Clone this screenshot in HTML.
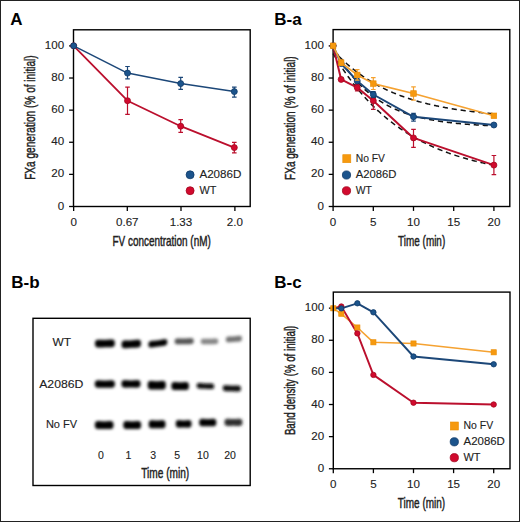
<!DOCTYPE html><html><head><meta charset="utf-8"><style>html,body{margin:0;padding:0;background:#fff;}svg{display:block;}text{font-family:"Liberation Sans", sans-serif;}</style></head><body>
<svg width="520" height="522" viewBox="0 0 520 522">
<rect x="0" y="0" width="520" height="522" fill="#fff"/>
<defs><filter id="bl" x="-30%" y="-60%" width="160%" height="220%"><feGaussianBlur stdDeviation="1.4"/></filter></defs>
<text x="10.2" y="24.6" font-size="17" text-anchor="start" font-weight="bold" fill="#000">A</text>
<path d="M69.10,206.50H73.50" stroke="#000" stroke-width="1.3"/>
<text x="64.1" y="209.60" font-size="11.6" text-anchor="end" font-weight="normal" fill="#222" stroke="#222" stroke-width="0.12">0</text>
<path d="M69.10,174.38H73.50" stroke="#000" stroke-width="1.3"/>
<text x="64.1" y="177.48" font-size="11.6" text-anchor="end" font-weight="normal" fill="#222" stroke="#222" stroke-width="0.12">20</text>
<path d="M69.10,142.26H73.50" stroke="#000" stroke-width="1.3"/>
<text x="64.1" y="145.36" font-size="11.6" text-anchor="end" font-weight="normal" fill="#222" stroke="#222" stroke-width="0.12">40</text>
<path d="M69.10,110.14H73.50" stroke="#000" stroke-width="1.3"/>
<text x="64.1" y="113.24" font-size="11.6" text-anchor="end" font-weight="normal" fill="#222" stroke="#222" stroke-width="0.12">60</text>
<path d="M69.10,78.02H73.50" stroke="#000" stroke-width="1.3"/>
<text x="64.1" y="81.12" font-size="11.6" text-anchor="end" font-weight="normal" fill="#222" stroke="#222" stroke-width="0.12">80</text>
<path d="M69.10,45.90H73.50" stroke="#000" stroke-width="1.3"/>
<text x="64.1" y="49.00" font-size="11.6" text-anchor="end" font-weight="normal" fill="#222" stroke="#222" stroke-width="0.12">100</text>
<path d="M73.65,206.50V210.90" stroke="#000" stroke-width="1.3"/>
<text x="73.65" y="225.6" font-size="11.6" text-anchor="middle" font-weight="normal" fill="#222" stroke="#222" stroke-width="0.12">0</text>
<path d="M127.30,206.50V210.90" stroke="#000" stroke-width="1.3"/>
<text x="127.30" y="225.6" font-size="11.6" text-anchor="middle" font-weight="normal" fill="#222" stroke="#222" stroke-width="0.12">0.67</text>
<path d="M181.00,206.50V210.90" stroke="#000" stroke-width="1.3"/>
<text x="181.00" y="225.6" font-size="11.6" text-anchor="middle" font-weight="normal" fill="#222" stroke="#222" stroke-width="0.12">1.33</text>
<path d="M234.90,206.50V210.90" stroke="#000" stroke-width="1.3"/>
<text x="234.90" y="225.6" font-size="11.6" text-anchor="middle" font-weight="normal" fill="#222" stroke="#222" stroke-width="0.12">2.0</text>
<text x="112.5" y="245.6" font-size="14.5" text-anchor="start" font-weight="normal" fill="#222" textLength="98.3" lengthAdjust="spacingAndGlyphs" stroke="#222" stroke-width="0.45">FV concentration (nM)</text>
<text transform="translate(34.9,179.8) rotate(-90)" x="0" y="0" font-size="14.5" fill="#222" textLength="124.5" lengthAdjust="spacingAndGlyphs" stroke="#222" stroke-width="0.45">FXa generation (% of initial)</text>
<rect x="73.5" y="29.8" width="176.70" height="176.70" fill="none" stroke="#000" stroke-width="1.4"/>
<polyline points="73.65,45.80 127.50,100.70 180.70,126.20 234.30,147.60" fill="none" stroke="#bb0f2d" stroke-width="1.8" stroke-linejoin="round"/>
<path d="M127.50,87.20V114.30M125.20,87.20H129.80M125.20,114.30H129.80" stroke="#bb0f2d" stroke-width="1.2" fill="none"/>
<path d="M180.70,119.60V132.30M178.40,119.60H183.00M178.40,132.30H183.00" stroke="#bb0f2d" stroke-width="1.2" fill="none"/>
<path d="M234.30,142.40V152.80M232.00,142.40H236.60M232.00,152.80H236.60" stroke="#bb0f2d" stroke-width="1.2" fill="none"/>
<circle cx="73.65" cy="45.80" r="3.0" fill="#d10a2e" stroke="#a3081f" stroke-width="0.8"/>
<circle cx="127.50" cy="100.70" r="3.0" fill="#d10a2e" stroke="#a3081f" stroke-width="0.8"/>
<circle cx="180.70" cy="126.20" r="3.0" fill="#d10a2e" stroke="#a3081f" stroke-width="0.8"/>
<circle cx="234.30" cy="147.60" r="3.0" fill="#d10a2e" stroke="#a3081f" stroke-width="0.8"/>
<polyline points="73.65,45.80 127.50,73.10 180.70,83.60 234.30,91.60" fill="none" stroke="#1c4778" stroke-width="1.5" stroke-linejoin="round"/>
<path d="M127.50,66.50V78.80M125.20,66.50H129.80M125.20,78.80H129.80" stroke="#1c4778" stroke-width="1.2" fill="none"/>
<path d="M180.70,77.30V89.30M178.40,77.30H183.00M178.40,89.30H183.00" stroke="#1c4778" stroke-width="1.2" fill="none"/>
<path d="M234.30,87.20V97.20M232.00,87.20H236.60M232.00,97.20H236.60" stroke="#1c4778" stroke-width="1.2" fill="none"/>
<circle cx="73.65" cy="45.80" r="3.0" fill="#1c548c" stroke="#0f3a68" stroke-width="0.8"/>
<circle cx="127.50" cy="73.10" r="3.0" fill="#1c548c" stroke="#0f3a68" stroke-width="0.8"/>
<circle cx="180.70" cy="83.60" r="3.0" fill="#1c548c" stroke="#0f3a68" stroke-width="0.8"/>
<circle cx="234.30" cy="91.60" r="3.0" fill="#1c548c" stroke="#0f3a68" stroke-width="0.8"/>
<circle cx="190.10" cy="174.80" r="4.0" fill="#1c548c" stroke="#0f3a68" stroke-width="0.8"/>
<text x="199.4" y="178.1" font-size="11.3" text-anchor="start" font-weight="normal" fill="#222" textLength="42.0" lengthAdjust="spacingAndGlyphs" stroke="#222" stroke-width="0.12">A2086D</text>
<circle cx="190.10" cy="190.70" r="4.0" fill="#d10a2e" stroke="#a3081f" stroke-width="0.8"/>
<text x="199.5" y="193.9" font-size="11.3" text-anchor="start" font-weight="normal" fill="#222" textLength="16.8" lengthAdjust="spacingAndGlyphs" stroke="#222" stroke-width="0.12">WT</text>
<text x="274.2" y="24.6" font-size="17" text-anchor="start" font-weight="bold" fill="#000">B-a</text>
<path d="M328.70,206.50H333.10" stroke="#000" stroke-width="1.3"/>
<text x="323.9" y="209.60" font-size="11.6" text-anchor="end" font-weight="normal" fill="#222" stroke="#222" stroke-width="0.12">0</text>
<path d="M328.70,174.38H333.10" stroke="#000" stroke-width="1.3"/>
<text x="323.9" y="177.48" font-size="11.6" text-anchor="end" font-weight="normal" fill="#222" stroke="#222" stroke-width="0.12">20</text>
<path d="M328.70,142.26H333.10" stroke="#000" stroke-width="1.3"/>
<text x="323.9" y="145.36" font-size="11.6" text-anchor="end" font-weight="normal" fill="#222" stroke="#222" stroke-width="0.12">40</text>
<path d="M328.70,110.14H333.10" stroke="#000" stroke-width="1.3"/>
<text x="323.9" y="113.24" font-size="11.6" text-anchor="end" font-weight="normal" fill="#222" stroke="#222" stroke-width="0.12">60</text>
<path d="M328.70,78.02H333.10" stroke="#000" stroke-width="1.3"/>
<text x="323.9" y="81.12" font-size="11.6" text-anchor="end" font-weight="normal" fill="#222" stroke="#222" stroke-width="0.12">80</text>
<path d="M328.70,45.90H333.10" stroke="#000" stroke-width="1.3"/>
<text x="323.9" y="49.00" font-size="11.6" text-anchor="end" font-weight="normal" fill="#222" stroke="#222" stroke-width="0.12">100</text>
<path d="M333.10,206.50V210.90" stroke="#000" stroke-width="1.3"/>
<text x="333.10" y="225.6" font-size="11.6" text-anchor="middle" font-weight="normal" fill="#222" stroke="#222" stroke-width="0.12">0</text>
<path d="M373.30,206.50V210.90" stroke="#000" stroke-width="1.3"/>
<text x="373.30" y="225.6" font-size="11.6" text-anchor="middle" font-weight="normal" fill="#222" stroke="#222" stroke-width="0.12">5</text>
<path d="M413.50,206.50V210.90" stroke="#000" stroke-width="1.3"/>
<text x="413.50" y="225.6" font-size="11.6" text-anchor="middle" font-weight="normal" fill="#222" stroke="#222" stroke-width="0.12">10</text>
<path d="M453.70,206.50V210.90" stroke="#000" stroke-width="1.3"/>
<text x="453.70" y="225.6" font-size="11.6" text-anchor="middle" font-weight="normal" fill="#222" stroke="#222" stroke-width="0.12">15</text>
<path d="M493.90,206.50V210.90" stroke="#000" stroke-width="1.3"/>
<text x="493.90" y="225.6" font-size="11.6" text-anchor="middle" font-weight="normal" fill="#222" stroke="#222" stroke-width="0.12">20</text>
<text x="398.1" y="245.6" font-size="14.5" text-anchor="start" font-weight="normal" fill="#222" textLength="47.1" lengthAdjust="spacingAndGlyphs" stroke="#222" stroke-width="0.45">Time (min)</text>
<text transform="translate(294.6,179.9) rotate(-90)" x="0" y="0" font-size="14.5" fill="#222" textLength="123.6" lengthAdjust="spacingAndGlyphs" stroke="#222" stroke-width="0.45">FXa generation (% of initial)</text>
<rect x="333.1" y="29.6" width="176.70" height="176.90" fill="none" stroke="#000" stroke-width="1.4"/>
<polyline points="333.10,50.20 333.90,51.08 334.71,51.95 335.51,52.81 336.32,53.66 337.12,54.50 337.92,55.32 338.73,56.14 339.53,56.94 340.34,57.74 341.14,58.52 341.94,59.29 342.75,60.06 343.55,60.81 344.36,61.56 345.16,62.29 345.96,63.02 346.77,63.73 347.57,64.44 348.38,65.14 349.18,65.83 349.98,66.51 350.79,67.18 351.59,67.85 352.40,68.50 353.20,69.15 354.00,69.78 354.81,70.41 355.61,71.04 356.42,71.65 357.22,72.26 358.02,72.85 358.83,73.44 359.63,74.03 360.44,74.60 361.24,75.17 362.04,75.73 362.85,76.29 363.65,76.83 364.46,77.37 365.26,77.90 366.06,78.43 366.87,78.95 367.67,79.46 368.48,79.97 369.28,80.47 370.08,80.96 370.89,81.45 371.69,81.93 372.50,82.40 373.30,82.87 374.10,83.33 374.91,83.79 375.71,84.24 376.52,84.68 377.32,85.12 378.12,85.56 378.93,85.99 379.73,86.41 380.54,86.82 381.34,87.24 382.14,87.64 382.95,88.04 383.75,88.44 384.56,88.83 385.36,89.22 386.16,89.60 386.97,89.97 387.77,90.35 388.58,90.71 389.38,91.07 390.18,91.43 390.99,91.78 391.79,92.13 392.60,92.48 393.40,92.82 394.20,93.15 395.01,93.48 395.81,93.81 396.62,94.13 397.42,94.45 398.22,94.76 399.03,95.07 399.83,95.38 400.64,95.68 401.44,95.98 402.24,96.27 403.05,96.56 403.85,96.85 404.66,97.13 405.46,97.41 406.26,97.69 407.07,97.96 407.87,98.23 408.68,98.50 409.48,98.76 410.28,99.02 411.09,99.27 411.89,99.53 412.70,99.77 413.50,100.02 414.30,100.26 415.11,100.50 415.91,100.74 416.72,100.97 417.52,101.20 418.32,101.43 419.13,101.66 419.93,101.88 420.74,102.10 421.54,102.31 422.34,102.53 423.15,102.74 423.95,102.94 424.76,103.15 425.56,103.35 426.36,103.55 427.17,103.75 427.97,103.94 428.78,104.14 429.58,104.33 430.38,104.51 431.19,104.70 431.99,104.88 432.80,105.06 433.60,105.24 434.40,105.42 435.21,105.59 436.01,105.76 436.82,105.93 437.62,106.10 438.42,106.26 439.23,106.43 440.03,106.59 440.84,106.74 441.64,106.90 442.44,107.06 443.25,107.21 444.05,107.36 444.86,107.51 445.66,107.65 446.46,107.80 447.27,107.94 448.07,108.08 448.88,108.22 449.68,108.36 450.48,108.50 451.29,108.63 452.09,108.76 452.90,108.89 453.70,109.02 454.50,109.15 455.31,109.28 456.11,109.40 456.92,109.52 457.72,109.64 458.52,109.76 459.33,109.88 460.13,110.00 460.94,110.11 461.74,110.23 462.54,110.34 463.35,110.45 464.15,110.56 464.96,110.67 465.76,110.77 466.56,110.88 467.37,110.98 468.17,111.08 468.98,111.18 469.78,111.28 470.58,111.38 471.39,111.48 472.19,111.58 473.00,111.67 473.80,111.76 474.60,111.86 475.41,111.95 476.21,112.04 477.02,112.13 477.82,112.21 478.62,112.30 479.43,112.39 480.23,112.47 481.04,112.55 481.84,112.64 482.64,112.72 483.45,112.80 484.25,112.88 485.06,112.95 485.86,113.03 486.66,113.11 487.47,113.18 488.27,113.26 489.08,113.33 489.88,113.40 490.68,113.47 491.49,113.54 492.29,113.61 493.10,113.68 493.90,113.75" fill="none" stroke="#111" stroke-width="1.5" stroke-linejoin="round" stroke-dasharray="5.2 3.8"/>
<polyline points="333.10,45.90 333.90,47.46 334.71,49.00 335.51,50.50 336.32,51.97 337.12,53.42 337.92,54.84 338.73,56.23 339.53,57.60 340.34,58.94 341.14,60.25 341.94,61.54 342.75,62.80 343.55,64.04 344.36,65.26 345.16,66.45 345.96,67.62 346.77,68.77 347.57,69.89 348.38,71.00 349.18,72.08 349.98,73.14 350.79,74.18 351.59,75.20 352.40,76.20 353.20,77.19 354.00,78.15 354.81,79.10 355.61,80.02 356.42,80.93 357.22,81.83 358.02,82.70 358.83,83.56 359.63,84.40 360.44,85.23 361.24,86.04 362.04,86.83 362.85,87.61 363.65,88.38 364.46,89.13 365.26,89.86 366.06,90.58 366.87,91.29 367.67,91.98 368.48,92.66 369.28,93.33 370.08,93.99 370.89,94.63 371.69,95.26 372.50,95.88 373.30,96.48 374.10,97.08 374.91,97.66 375.71,98.23 376.52,98.79 377.32,99.34 378.12,99.88 378.93,100.41 379.73,100.93 380.54,101.44 381.34,101.94 382.14,102.43 382.95,102.91 383.75,103.38 384.56,103.85 385.36,104.30 386.16,104.74 386.97,105.18 387.77,105.61 388.58,106.03 389.38,106.44 390.18,106.84 390.99,107.24 391.79,107.63 392.60,108.01 393.40,108.38 394.20,108.75 395.01,109.11 395.81,109.46 396.62,109.81 397.42,110.15 398.22,110.48 399.03,110.81 399.83,111.13 400.64,111.44 401.44,111.75 402.24,112.05 403.05,112.35 403.85,112.64 404.66,112.92 405.46,113.20 406.26,113.48 407.07,113.75 407.87,114.01 408.68,114.27 409.48,114.52 410.28,114.77 411.09,115.02 411.89,115.26 412.70,115.49 413.50,115.72 414.30,115.95 415.11,116.17 415.91,116.39 416.72,116.60 417.52,116.81 418.32,117.02 419.13,117.22 419.93,117.42 420.74,117.61 421.54,117.80 422.34,117.99 423.15,118.17 423.95,118.35 424.76,118.52 425.56,118.70 426.36,118.87 427.17,119.03 427.97,119.19 428.78,119.35 429.58,119.51 430.38,119.66 431.19,119.81 431.99,119.96 432.80,120.11 433.60,120.25 434.40,120.39 435.21,120.53 436.01,120.66 436.82,120.79 437.62,120.92 438.42,121.05 439.23,121.17 440.03,121.29 440.84,121.41 441.64,121.53 442.44,121.64 443.25,121.76 444.05,121.87 444.86,121.98 445.66,122.08 446.46,122.19 447.27,122.29 448.07,122.39 448.88,122.49 449.68,122.59 450.48,122.68 451.29,122.77 452.09,122.86 452.90,122.95 453.70,123.04 454.50,123.13 455.31,123.21 456.11,123.29 456.92,123.38 457.72,123.45 458.52,123.53 459.33,123.61 460.13,123.68 460.94,123.76 461.74,123.83 462.54,123.90 463.35,123.97 464.15,124.04 464.96,124.11 465.76,124.17 466.56,124.24 467.37,124.30 468.17,124.36 468.98,124.42 469.78,124.48 470.58,124.54 471.39,124.60 472.19,124.65 473.00,124.71 473.80,124.76 474.60,124.82 475.41,124.87 476.21,124.92 477.02,124.97 477.82,125.02 478.62,125.07 479.43,125.11 480.23,125.16 481.04,125.21 481.84,125.25 482.64,125.29 483.45,125.34 484.25,125.38 485.06,125.42 485.86,125.46 486.66,125.50 487.47,125.54 488.27,125.58 489.08,125.61 489.88,125.65 490.68,125.69 491.49,125.72 492.29,125.76 493.10,125.79 493.90,125.82" fill="none" stroke="#111" stroke-width="1.5" stroke-linejoin="round" stroke-dasharray="5.2 3.8"/>
<polyline points="333.10,53.54 333.90,54.89 334.71,56.23 335.51,57.56 336.32,58.87 337.12,60.17 337.92,61.46 338.73,62.73 339.53,63.99 340.34,65.23 341.14,66.46 341.94,67.68 342.75,68.88 343.55,70.07 344.36,71.25 345.16,72.42 345.96,73.57 346.77,74.71 347.57,75.84 348.38,76.96 349.18,78.06 349.98,79.16 350.79,80.24 351.59,81.31 352.40,82.36 353.20,83.41 354.00,84.45 354.81,85.47 355.61,86.48 356.42,87.49 357.22,88.48 358.02,89.46 358.83,90.43 359.63,91.39 360.44,92.34 361.24,93.28 362.04,94.21 362.85,95.13 363.65,96.04 364.46,96.93 365.26,97.82 366.06,98.71 366.87,99.58 367.67,100.44 368.48,101.29 369.28,102.13 370.08,102.97 370.89,103.79 371.69,104.61 372.50,105.42 373.30,106.22 374.10,107.01 374.91,107.79 375.71,108.56 376.52,109.33 377.32,110.08 378.12,110.83 378.93,111.57 379.73,112.31 380.54,113.03 381.34,113.75 382.14,114.46 382.95,115.16 383.75,115.85 384.56,116.54 385.36,117.22 386.16,117.89 386.97,118.56 387.77,119.22 388.58,119.87 389.38,120.51 390.18,121.15 390.99,121.78 391.79,122.40 392.60,123.02 393.40,123.63 394.20,124.23 395.01,124.83 395.81,125.42 396.62,126.00 397.42,126.58 398.22,127.15 399.03,127.72 399.83,128.28 400.64,128.83 401.44,129.38 402.24,129.92 403.05,130.45 403.85,130.98 404.66,131.51 405.46,132.03 406.26,132.54 407.07,133.05 407.87,133.55 408.68,134.05 409.48,134.54 410.28,135.03 411.09,135.51 411.89,135.98 412.70,136.45 413.50,136.92 414.30,137.38 415.11,137.83 415.91,138.29 416.72,138.73 417.52,139.17 418.32,139.61 419.13,140.04 419.93,140.47 420.74,140.89 421.54,141.31 422.34,141.72 423.15,142.13 423.95,142.54 424.76,142.94 425.56,143.33 426.36,143.72 427.17,144.11 427.97,144.49 428.78,144.87 429.58,145.25 430.38,145.62 431.19,145.99 431.99,146.35 432.80,146.71 433.60,147.07 434.40,147.42 435.21,147.76 436.01,148.11 436.82,148.45 437.62,148.79 438.42,149.12 439.23,149.45 440.03,149.78 440.84,150.10 441.64,150.42 442.44,150.73 443.25,151.04 444.05,151.35 444.86,151.66 445.66,151.96 446.46,152.26 447.27,152.56 448.07,152.85 448.88,153.14 449.68,153.43 450.48,153.71 451.29,153.99 452.09,154.27 452.90,154.54 453.70,154.81 454.50,155.08 455.31,155.35 456.11,155.61 456.92,155.87 457.72,156.13 458.52,156.38 459.33,156.63 460.13,156.88 460.94,157.13 461.74,157.37 462.54,157.61 463.35,157.85 464.15,158.09 464.96,158.32 465.76,158.55 466.56,158.78 467.37,159.00 468.17,159.23 468.98,159.45 469.78,159.67 470.58,159.88 471.39,160.10 472.19,160.31 473.00,160.52 473.80,160.73 474.60,160.93 475.41,161.13 476.21,161.33 477.02,161.53 477.82,161.73 478.62,161.92 479.43,162.11 480.23,162.30 481.04,162.49 481.84,162.68 482.64,162.86 483.45,163.04 484.25,163.22 485.06,163.40 485.86,163.58 486.66,163.75 487.47,163.93 488.27,164.10 489.08,164.27 489.88,164.43 490.68,164.60 491.49,164.76 492.29,164.92 493.10,165.08 493.90,165.24" fill="none" stroke="#111" stroke-width="1.5" stroke-linejoin="round" stroke-dasharray="5.2 3.8"/>
<polyline points="333.10,45.80 341.14,79.40 357.22,87.60 373.30,100.80 413.50,137.90 493.90,165.10" fill="none" stroke="#bb0f2d" stroke-width="2.0" stroke-linejoin="round"/>
<path d="M357.22,84.40V90.80M354.92,84.40H359.52M354.92,90.80H359.52" stroke="#bb0f2d" stroke-width="1.2" fill="none"/>
<path d="M373.30,92.30V109.40M371.00,92.30H375.60M371.00,109.40H375.60" stroke="#bb0f2d" stroke-width="1.2" fill="none"/>
<path d="M413.50,129.30V147.40M411.20,129.30H415.80M411.20,147.40H415.80" stroke="#bb0f2d" stroke-width="1.2" fill="none"/>
<path d="M493.90,155.50V174.60M491.60,155.50H496.20M491.60,174.60H496.20" stroke="#bb0f2d" stroke-width="1.2" fill="none"/>
<circle cx="333.10" cy="45.80" r="3.0" fill="#d10a2e" stroke="#a3081f" stroke-width="0.8"/>
<circle cx="341.14" cy="79.40" r="3.0" fill="#d10a2e" stroke="#a3081f" stroke-width="0.8"/>
<circle cx="357.22" cy="87.60" r="3.0" fill="#d10a2e" stroke="#a3081f" stroke-width="0.8"/>
<circle cx="373.30" cy="100.80" r="3.0" fill="#d10a2e" stroke="#a3081f" stroke-width="0.8"/>
<circle cx="413.50" cy="137.90" r="3.0" fill="#d10a2e" stroke="#a3081f" stroke-width="0.8"/>
<circle cx="493.90" cy="165.10" r="3.0" fill="#d10a2e" stroke="#a3081f" stroke-width="0.8"/>
<polyline points="333.10,45.80 341.14,63.60 357.22,81.00 373.30,94.50 413.50,116.80 493.90,125.00" fill="none" stroke="#1c4778" stroke-width="2.0" stroke-linejoin="round"/>
<path d="M373.30,91.50V97.50M371.00,91.50H375.60M371.00,97.50H375.60" stroke="#1c4778" stroke-width="1.2" fill="none"/>
<path d="M413.50,113.40V121.10M411.20,113.40H415.80M411.20,121.10H415.80" stroke="#1c4778" stroke-width="1.2" fill="none"/>
<circle cx="333.10" cy="45.80" r="3.0" fill="#1c548c" stroke="#0f3a68" stroke-width="0.8"/>
<circle cx="341.14" cy="63.60" r="3.0" fill="#1c548c" stroke="#0f3a68" stroke-width="0.8"/>
<circle cx="357.22" cy="81.00" r="3.0" fill="#1c548c" stroke="#0f3a68" stroke-width="0.8"/>
<circle cx="373.30" cy="94.50" r="3.0" fill="#1c548c" stroke="#0f3a68" stroke-width="0.8"/>
<circle cx="413.50" cy="116.80" r="3.0" fill="#1c548c" stroke="#0f3a68" stroke-width="0.8"/>
<circle cx="493.90" cy="125.00" r="3.0" fill="#1c548c" stroke="#0f3a68" stroke-width="0.8"/>
<polyline points="333.10,45.80 341.14,62.70 357.22,74.90 373.30,83.60 413.50,93.50 493.90,115.80" fill="none" stroke="#f5a231" stroke-width="1.7" stroke-linejoin="round"/>
<path d="M341.14,60.20V65.20M338.84,60.20H343.44M338.84,65.20H343.44" stroke="#f5a231" stroke-width="1.2" fill="none"/>
<path d="M357.22,69.60V80.20M354.92,69.60H359.52M354.92,80.20H359.52" stroke="#f5a231" stroke-width="1.2" fill="none"/>
<path d="M373.30,77.70V89.50M371.00,77.70H375.60M371.00,89.50H375.60" stroke="#f5a231" stroke-width="1.2" fill="none"/>
<path d="M413.50,86.90V100.10M411.20,86.90H415.80M411.20,100.10H415.80" stroke="#f5a231" stroke-width="1.2" fill="none"/>
<rect x="330.30" y="43.00" width="5.6" height="5.6" fill="#f6990f" stroke="#ea8c00" stroke-width="0.6"/>
<rect x="338.34" y="59.90" width="5.6" height="5.6" fill="#f6990f" stroke="#ea8c00" stroke-width="0.6"/>
<rect x="354.42" y="72.10" width="5.6" height="5.6" fill="#f6990f" stroke="#ea8c00" stroke-width="0.6"/>
<rect x="370.50" y="80.80" width="5.6" height="5.6" fill="#f6990f" stroke="#ea8c00" stroke-width="0.6"/>
<rect x="410.70" y="90.70" width="5.6" height="5.6" fill="#f6990f" stroke="#ea8c00" stroke-width="0.6"/>
<rect x="491.10" y="113.00" width="5.6" height="5.6" fill="#f6990f" stroke="#ea8c00" stroke-width="0.6"/>
<rect x="342.80" y="154.70" width="8.0" height="8.0" fill="#f6990f" stroke="#ea8c00" stroke-width="0.6"/>
<text x="355.8" y="161.6" font-size="11.3" text-anchor="start" font-weight="normal" fill="#222" textLength="29.2" lengthAdjust="spacingAndGlyphs" stroke="#222" stroke-width="0.12">No FV</text>
<circle cx="346.50" cy="175.00" r="4.1" fill="#1c548c" stroke="#0f3a68" stroke-width="0.8"/>
<text x="355.8" y="178.1" font-size="11.3" text-anchor="start" font-weight="normal" fill="#222" textLength="40.7" lengthAdjust="spacingAndGlyphs" stroke="#222" stroke-width="0.12">A2086D</text>
<circle cx="346.50" cy="190.80" r="4.1" fill="#d10a2e" stroke="#a3081f" stroke-width="0.8"/>
<text x="355.8" y="194.2" font-size="11.3" text-anchor="start" font-weight="normal" fill="#222" textLength="16.1" lengthAdjust="spacingAndGlyphs" stroke="#222" stroke-width="0.12">WT</text>
<text x="11.3" y="287.5" font-size="17" text-anchor="start" font-weight="bold" fill="#000">B-b</text>
<rect x="33" y="318.3" width="217.2" height="167.2" fill="none" stroke="#000" stroke-width="1.4"/>
<text x="52.5" y="346.4" font-size="11.5" text-anchor="start" font-weight="normal" fill="#222" textLength="18.5" lengthAdjust="spacingAndGlyphs" stroke="#222" stroke-width="0.12">WT</text>
<text x="39.2" y="387.5" font-size="11.5" text-anchor="start" font-weight="normal" fill="#222" textLength="44.2" lengthAdjust="spacingAndGlyphs" stroke="#222" stroke-width="0.12">A2086D</text>
<text x="45.9" y="427.9" font-size="11.5" text-anchor="start" font-weight="normal" fill="#222" textLength="31.2" lengthAdjust="spacingAndGlyphs" stroke="#222" stroke-width="0.12">No FV</text>
<text x="100.8" y="458.8" font-size="10.5" text-anchor="middle" font-weight="normal" fill="#222" stroke="#222" stroke-width="0.12">0</text>
<text x="128.5" y="458.8" font-size="10.5" text-anchor="middle" font-weight="normal" fill="#222" stroke="#222" stroke-width="0.12">1</text>
<text x="153.1" y="458.8" font-size="10.5" text-anchor="middle" font-weight="normal" fill="#222" stroke="#222" stroke-width="0.12">3</text>
<text x="177.1" y="458.8" font-size="10.5" text-anchor="middle" font-weight="normal" fill="#222" stroke="#222" stroke-width="0.12">5</text>
<text x="202.9" y="458.8" font-size="10.5" text-anchor="middle" font-weight="normal" fill="#222" stroke="#222" stroke-width="0.12">10</text>
<text x="230.0" y="458.8" font-size="10.5" text-anchor="middle" font-weight="normal" fill="#222" stroke="#222" stroke-width="0.12">20</text>
<text x="141.2" y="477.6" font-size="14.5" text-anchor="start" font-weight="normal" fill="#222" textLength="48.0" lengthAdjust="spacingAndGlyphs" stroke="#222" stroke-width="0.45">Time (min)</text>
<g filter="url(#bl)">
<path d="M94.90,343.60 L95.40,340.90 L95.90,340.38 L96.40,340.08 L96.90,339.89 L97.40,339.77 L97.90,339.70 L98.40,339.66 L98.90,339.65 L99.40,339.65 L99.90,339.67 L100.40,339.70 L100.90,339.73 L101.40,339.76 L101.90,339.80 L102.40,339.82 L102.90,339.85 L103.40,339.87 L103.90,339.88 L104.40,339.88 L104.90,339.87 L105.40,339.86 L105.90,339.84 L106.40,339.81 L106.90,339.77 L107.40,339.72 L107.90,339.68 L108.40,339.62 L108.90,339.57 L109.40,339.52 L109.90,339.47 L110.40,339.43 L110.90,339.41 L111.40,339.40 L111.90,339.42 L112.40,339.47 L112.90,339.57 L113.40,339.74 L113.90,340.02 L114.40,340.52 L114.90,343.20 L114.90,343.20 L114.40,345.90 L113.90,346.43 L113.40,346.74 L112.90,346.95 L112.40,347.09 L111.90,347.18 L111.40,347.25 L110.90,347.29 L110.40,347.31 L109.90,347.33 L109.40,347.33 L108.90,347.33 L108.40,347.33 L107.90,347.32 L107.40,347.32 L106.90,347.32 L106.40,347.32 L105.90,347.32 L105.40,347.32 L104.90,347.33 L104.40,347.34 L103.90,347.36 L103.40,347.38 L102.90,347.40 L102.40,347.42 L101.90,347.44 L101.40,347.47 L100.90,347.49 L100.40,347.51 L99.90,347.53 L99.40,347.53 L98.90,347.53 L98.40,347.51 L97.90,347.46 L97.40,347.39 L96.90,347.27 L96.40,347.08 L95.90,346.79 L95.40,346.28 L94.90,343.60Z" fill="#000"/>
<path d="M121.50,344.50 L121.99,341.78 L122.48,341.24 L122.97,340.92 L123.46,340.71 L123.95,340.57 L124.44,340.48 L124.93,340.42 L125.42,340.39 L125.91,340.37 L126.40,340.37 L126.89,340.38 L127.38,340.39 L127.87,340.40 L128.36,340.42 L128.85,340.42 L129.34,340.43 L129.83,340.43 L130.32,340.42 L130.81,340.40 L131.30,340.37 L131.79,340.34 L132.28,340.30 L132.77,340.25 L133.26,340.19 L133.75,340.12 L134.24,340.06 L134.73,339.98 L135.22,339.91 L135.71,339.84 L136.20,339.77 L136.69,339.71 L137.18,339.67 L137.67,339.64 L138.16,339.64 L138.65,339.67 L139.14,339.75 L139.63,339.90 L140.12,340.16 L140.61,340.64 L141.10,343.30 L141.10,343.30 L140.61,346.02 L140.12,346.57 L139.63,346.90 L139.14,347.13 L138.65,347.29 L138.16,347.40 L137.67,347.49 L137.18,347.55 L136.69,347.59 L136.20,347.63 L135.71,347.65 L135.22,347.67 L134.73,347.69 L134.24,347.70 L133.75,347.72 L133.26,347.74 L132.77,347.76 L132.28,347.78 L131.79,347.80 L131.30,347.83 L130.81,347.86 L130.32,347.90 L129.83,347.94 L129.34,347.98 L128.85,348.02 L128.36,348.06 L127.87,348.11 L127.38,348.15 L126.89,348.19 L126.40,348.23 L125.91,348.25 L125.42,348.27 L124.93,348.27 L124.44,348.24 L123.95,348.19 L123.46,348.09 L122.97,347.92 L122.48,347.65 L121.99,347.16 L121.50,344.50Z" fill="#000"/>
<path d="M148.30,344.60 L148.78,342.30 L149.25,341.80 L149.73,341.50 L150.21,341.28 L150.69,341.12 L151.16,341.01 L151.64,340.92 L152.12,340.85 L152.60,340.80 L153.07,340.76 L153.55,340.73 L154.03,340.70 L154.51,340.67 L154.98,340.64 L155.46,340.60 L155.94,340.57 L156.42,340.52 L156.89,340.48 L157.37,340.42 L157.85,340.36 L158.33,340.29 L158.81,340.22 L159.28,340.13 L159.76,340.05 L160.24,339.95 L160.72,339.86 L161.19,339.76 L161.67,339.66 L162.15,339.56 L162.62,339.46 L163.10,339.37 L163.58,339.29 L164.06,339.23 L164.53,339.19 L165.01,339.17 L165.49,339.20 L165.97,339.29 L166.44,339.46 L166.92,339.83 L167.40,342.00 L167.40,342.00 L166.92,344.31 L166.44,344.80 L165.97,345.12 L165.49,345.35 L165.01,345.52 L164.53,345.66 L164.06,345.77 L163.58,345.86 L163.10,345.94 L162.62,346.01 L162.15,346.07 L161.67,346.12 L161.19,346.18 L160.72,346.23 L160.24,346.28 L159.76,346.34 L159.28,346.39 L158.81,346.45 L158.33,346.51 L157.85,346.58 L157.37,346.64 L156.89,346.71 L156.42,346.78 L155.94,346.86 L155.46,346.93 L154.98,347.01 L154.51,347.09 L154.03,347.16 L153.55,347.24 L153.07,347.31 L152.60,347.37 L152.12,347.42 L151.64,347.46 L151.16,347.48 L150.69,347.47 L150.21,347.43 L149.73,347.33 L149.25,347.14 L148.78,346.78 L148.30,344.60Z" fill="#000"/>
<path d="M174.60,341.40 L175.08,339.34 L175.56,338.94 L176.04,338.71 L176.52,338.56 L177.00,338.47 L177.48,338.41 L177.96,338.38 L178.44,338.37 L178.92,338.37 L179.40,338.38 L179.88,338.40 L180.36,338.42 L180.84,338.45 L181.32,338.47 L181.80,338.49 L182.28,338.50 L182.76,338.51 L183.24,338.52 L183.72,338.52 L184.20,338.51 L184.68,338.50 L185.16,338.48 L185.64,338.45 L186.12,338.42 L186.60,338.39 L187.08,338.35 L187.56,338.31 L188.04,338.26 L188.52,338.22 L189.00,338.18 L189.48,338.15 L189.96,338.13 L190.44,338.12 L190.92,338.13 L191.40,338.17 L191.88,338.24 L192.36,338.37 L192.84,338.58 L193.32,338.96 L193.80,341.00 L193.80,341.00 L193.32,343.06 L192.84,343.46 L192.36,343.70 L191.88,343.86 L191.40,343.97 L190.92,344.05 L190.44,344.10 L189.96,344.13 L189.48,344.16 L189.00,344.17 L188.52,344.17 L188.04,344.18 L187.56,344.18 L187.08,344.18 L186.60,344.17 L186.12,344.17 L185.64,344.18 L185.16,344.18 L184.68,344.19 L184.20,344.20 L183.72,344.21 L183.24,344.22 L182.76,344.24 L182.28,344.25 L181.80,344.27 L181.32,344.30 L180.84,344.32 L180.36,344.34 L179.88,344.35 L179.40,344.37 L178.92,344.38 L178.44,344.37 L177.96,344.36 L177.48,344.33 L177.00,344.27 L176.52,344.18 L176.04,344.04 L175.56,343.82 L175.08,343.44 L174.60,341.40Z" fill="#555"/>
<path d="M200.70,341.50 L201.14,339.57 L201.58,339.20 L202.02,338.98 L202.46,338.85 L202.90,338.76 L203.34,338.71 L203.78,338.68 L204.22,338.67 L204.66,338.68 L205.10,338.69 L205.54,338.71 L205.98,338.73 L206.42,338.76 L206.86,338.78 L207.30,338.80 L207.74,338.81 L208.18,338.83 L208.62,338.83 L209.06,338.83 L209.50,338.83 L209.94,338.82 L210.38,338.80 L210.82,338.78 L211.26,338.75 L211.70,338.72 L212.14,338.69 L212.58,338.65 L213.02,338.61 L213.46,338.58 L213.90,338.54 L214.34,338.51 L214.78,338.49 L215.22,338.49 L215.66,338.50 L216.10,338.54 L216.54,338.61 L216.98,338.73 L217.42,338.93 L217.86,339.29 L218.30,341.20 L218.30,341.20 L217.86,343.13 L217.42,343.51 L216.98,343.73 L216.54,343.88 L216.10,343.98 L215.66,344.05 L215.22,344.09 L214.78,344.12 L214.34,344.14 L213.90,344.15 L213.46,344.16 L213.02,344.16 L212.58,344.15 L212.14,344.15 L211.70,344.15 L211.26,344.15 L210.82,344.15 L210.38,344.15 L209.94,344.15 L209.50,344.16 L209.06,344.17 L208.62,344.18 L208.18,344.19 L207.74,344.21 L207.30,344.22 L206.86,344.24 L206.42,344.26 L205.98,344.28 L205.54,344.29 L205.10,344.30 L204.66,344.31 L204.22,344.30 L203.78,344.29 L203.34,344.26 L202.90,344.20 L202.46,344.12 L202.02,343.98 L201.58,343.78 L201.14,343.41 L200.70,341.50Z" fill="#858585"/>
<path d="M225.80,339.60 L226.20,337.59 L226.61,337.18 L227.01,336.93 L227.42,336.77 L227.82,336.66 L228.23,336.58 L228.63,336.53 L229.04,336.50 L229.44,336.48 L229.85,336.48 L230.25,336.47 L230.66,336.47 L231.06,336.47 L231.47,336.48 L231.87,336.47 L232.28,336.47 L232.68,336.46 L233.09,336.44 L233.49,336.42 L233.90,336.40 L234.30,336.36 L234.71,336.32 L235.11,336.28 L235.52,336.23 L235.92,336.17 L236.33,336.12 L236.73,336.05 L237.14,335.99 L237.54,335.93 L237.95,335.88 L238.35,335.82 L238.76,335.78 L239.16,335.75 L239.57,335.74 L239.97,335.76 L240.38,335.81 L240.78,335.91 L241.19,336.10 L241.59,336.45 L242.00,338.40 L242.00,338.40 L241.59,340.41 L241.19,340.83 L240.78,341.08 L240.38,341.26 L239.97,341.38 L239.57,341.47 L239.16,341.55 L238.76,341.60 L238.35,341.64 L237.95,341.67 L237.54,341.70 L237.14,341.72 L236.73,341.74 L236.33,341.76 L235.92,341.78 L235.52,341.80 L235.11,341.82 L234.71,341.85 L234.30,341.87 L233.90,341.90 L233.49,341.93 L233.09,341.97 L232.68,342.00 L232.28,342.04 L231.87,342.08 L231.47,342.12 L231.06,342.16 L230.66,342.20 L230.25,342.24 L229.85,342.27 L229.44,342.30 L229.04,342.32 L228.63,342.33 L228.23,342.31 L227.82,342.28 L227.42,342.22 L227.01,342.10 L226.61,341.91 L226.20,341.55 L225.80,339.60Z" fill="#727272"/>
<path d="M94.70,384.00 L95.21,381.44 L95.71,380.95 L96.22,380.67 L96.73,380.50 L97.24,380.40 L97.74,380.34 L98.25,380.31 L98.76,380.31 L99.27,380.33 L99.77,380.35 L100.28,380.39 L100.79,380.43 L101.30,380.47 L101.80,380.51 L102.31,380.55 L102.82,380.58 L103.33,380.61 L103.83,380.62 L104.34,380.64 L104.85,380.64 L105.36,380.64 L105.86,380.62 L106.37,380.61 L106.88,380.58 L107.39,380.55 L107.89,380.51 L108.40,380.47 L108.91,380.43 L109.42,380.39 L109.92,380.35 L110.43,380.33 L110.94,380.31 L111.45,380.31 L111.95,380.34 L112.46,380.40 L112.97,380.50 L113.48,380.67 L113.98,380.95 L114.49,381.44 L115.00,384.00 L115.00,384.00 L114.49,386.56 L113.98,387.06 L113.48,387.34 L112.97,387.53 L112.46,387.65 L111.95,387.74 L111.45,387.79 L110.94,387.82 L110.43,387.83 L109.92,387.84 L109.42,387.83 L108.91,387.82 L108.40,387.81 L107.89,387.79 L107.39,387.78 L106.88,387.77 L106.37,387.76 L105.86,387.75 L105.36,387.75 L104.85,387.74 L104.34,387.75 L103.83,387.75 L103.33,387.76 L102.82,387.77 L102.31,387.78 L101.80,387.79 L101.30,387.81 L100.79,387.82 L100.28,387.83 L99.77,387.84 L99.27,387.83 L98.76,387.82 L98.25,387.79 L97.74,387.74 L97.24,387.65 L96.73,387.53 L96.22,387.34 L95.71,387.06 L95.21,386.56 L94.70,384.00Z" fill="#000"/>
<path d="M121.40,383.80 L121.88,381.24 L122.36,380.75 L122.84,380.47 L123.32,380.30 L123.80,380.20 L124.28,380.14 L124.76,380.11 L125.24,380.11 L125.72,380.13 L126.20,380.15 L126.68,380.19 L127.16,380.23 L127.64,380.27 L128.12,380.31 L128.60,380.35 L129.08,380.38 L129.56,380.41 L130.04,380.42 L130.52,380.44 L131.00,380.44 L131.48,380.44 L131.96,380.42 L132.44,380.41 L132.92,380.38 L133.40,380.35 L133.88,380.31 L134.36,380.27 L134.84,380.23 L135.32,380.19 L135.80,380.15 L136.28,380.13 L136.76,380.11 L137.24,380.11 L137.72,380.14 L138.20,380.20 L138.68,380.30 L139.16,380.47 L139.64,380.75 L140.12,381.24 L140.60,383.80 L140.60,383.80 L140.12,386.36 L139.64,386.86 L139.16,387.14 L138.68,387.33 L138.20,387.45 L137.72,387.54 L137.24,387.59 L136.76,387.62 L136.28,387.63 L135.80,387.64 L135.32,387.63 L134.84,387.62 L134.36,387.61 L133.88,387.59 L133.40,387.58 L132.92,387.57 L132.44,387.56 L131.96,387.55 L131.48,387.55 L131.00,387.54 L130.52,387.55 L130.04,387.55 L129.56,387.56 L129.08,387.57 L128.60,387.58 L128.12,387.59 L127.64,387.61 L127.16,387.62 L126.68,387.63 L126.20,387.64 L125.72,387.63 L125.24,387.62 L124.76,387.59 L124.28,387.54 L123.80,387.45 L123.32,387.33 L122.84,387.14 L122.36,386.86 L121.88,386.36 L121.40,383.80Z" fill="#000"/>
<path d="M147.60,385.10 L148.06,382.16 L148.51,381.59 L148.97,381.28 L149.43,381.08 L149.89,380.96 L150.34,380.89 L150.80,380.86 L151.26,380.86 L151.72,380.88 L152.18,380.91 L152.63,380.95 L153.09,380.99 L153.55,381.04 L154.00,381.09 L154.46,381.13 L154.92,381.17 L155.38,381.20 L155.84,381.22 L156.29,381.23 L156.75,381.24 L157.21,381.23 L157.66,381.22 L158.12,381.20 L158.58,381.17 L159.04,381.13 L159.50,381.09 L159.95,381.04 L160.41,380.99 L160.87,380.95 L161.32,380.91 L161.78,380.88 L162.24,380.86 L162.70,380.86 L163.16,380.89 L163.61,380.96 L164.07,381.08 L164.53,381.28 L164.99,381.59 L165.44,382.16 L165.90,385.10 L165.90,385.10 L165.44,388.04 L164.99,388.61 L164.53,388.94 L164.07,389.16 L163.61,389.30 L163.16,389.40 L162.70,389.46 L162.24,389.49 L161.78,389.51 L161.32,389.51 L160.87,389.51 L160.41,389.49 L159.95,389.48 L159.50,389.46 L159.04,389.45 L158.58,389.43 L158.12,389.42 L157.66,389.41 L157.21,389.41 L156.75,389.41 L156.29,389.41 L155.84,389.41 L155.38,389.42 L154.92,389.43 L154.46,389.45 L154.00,389.46 L153.55,389.48 L153.09,389.49 L152.63,389.51 L152.18,389.51 L151.72,389.51 L151.26,389.49 L150.80,389.46 L150.34,389.40 L149.89,389.30 L149.43,389.16 L148.97,388.94 L148.51,388.61 L148.06,388.04 L147.60,385.10Z" fill="#000"/>
<path d="M171.30,386.00 L171.74,383.25 L172.18,382.72 L172.63,382.43 L173.07,382.24 L173.51,382.13 L173.95,382.07 L174.40,382.04 L174.84,382.04 L175.28,382.05 L175.72,382.08 L176.17,382.12 L176.61,382.16 L177.05,382.21 L177.49,382.25 L177.94,382.29 L178.38,382.32 L178.82,382.35 L179.26,382.37 L179.71,382.38 L180.15,382.39 L180.59,382.38 L181.03,382.37 L181.48,382.35 L181.92,382.32 L182.36,382.29 L182.80,382.25 L183.25,382.21 L183.69,382.16 L184.13,382.12 L184.57,382.08 L185.02,382.05 L185.46,382.04 L185.90,382.04 L186.34,382.07 L186.79,382.13 L187.23,382.24 L187.67,382.43 L188.11,382.72 L188.56,383.25 L189.00,386.00 L189.00,386.00 L188.56,388.75 L188.11,389.28 L187.67,389.59 L187.23,389.79 L186.79,389.93 L186.34,390.02 L185.90,390.07 L185.46,390.10 L185.02,390.12 L184.57,390.12 L184.13,390.12 L183.69,390.11 L183.25,390.09 L182.80,390.08 L182.36,390.06 L181.92,390.05 L181.48,390.04 L181.03,390.03 L180.59,390.03 L180.15,390.02 L179.71,390.03 L179.26,390.03 L178.82,390.04 L178.38,390.05 L177.94,390.06 L177.49,390.08 L177.05,390.09 L176.61,390.11 L176.17,390.12 L175.72,390.12 L175.28,390.12 L174.84,390.10 L174.40,390.07 L173.95,390.02 L173.51,389.93 L173.07,389.79 L172.63,389.59 L172.18,389.28 L171.74,388.75 L171.30,386.00Z" fill="#000"/>
<path d="M196.60,385.60 L197.04,383.70 L197.48,383.35 L197.92,383.17 L198.36,383.06 L198.80,383.00 L199.24,382.97 L199.68,382.98 L200.12,382.99 L200.56,383.03 L201.00,383.07 L201.44,383.11 L201.88,383.16 L202.32,383.21 L202.76,383.26 L203.20,383.31 L203.64,383.35 L204.08,383.39 L204.52,383.43 L204.96,383.46 L205.40,383.48 L205.84,383.50 L206.28,383.51 L206.72,383.51 L207.16,383.51 L207.60,383.51 L208.04,383.50 L208.48,383.49 L208.92,383.48 L209.36,383.47 L209.80,383.47 L210.24,383.47 L210.68,383.47 L211.12,383.50 L211.56,383.53 L212.00,383.60 L212.44,383.70 L212.88,383.85 L213.32,384.07 L213.76,384.46 L214.20,386.40 L214.20,386.40 L213.76,388.30 L213.32,388.65 L212.88,388.85 L212.44,388.97 L212.00,389.04 L211.56,389.08 L211.12,389.10 L210.68,389.10 L210.24,389.09 L209.80,389.08 L209.36,389.05 L208.92,389.03 L208.48,389.00 L208.04,388.97 L207.60,388.94 L207.16,388.91 L206.72,388.88 L206.28,388.85 L205.84,388.83 L205.40,388.81 L204.96,388.79 L204.52,388.77 L204.08,388.76 L203.64,388.75 L203.20,388.74 L202.76,388.73 L202.32,388.72 L201.88,388.71 L201.44,388.69 L201.00,388.68 L200.56,388.65 L200.12,388.62 L199.68,388.58 L199.24,388.52 L198.80,388.44 L198.36,388.33 L197.92,388.17 L197.48,387.93 L197.04,387.54 L196.60,385.60Z" fill="#0c0c0c"/>
<path d="M222.70,388.00 L223.16,385.97 L223.61,385.59 L224.07,385.38 L224.53,385.26 L224.99,385.19 L225.44,385.16 L225.90,385.16 L226.36,385.17 L226.82,385.20 L227.27,385.23 L227.73,385.28 L228.19,385.32 L228.65,385.37 L229.10,385.42 L229.56,385.46 L230.02,385.50 L230.48,385.54 L230.94,385.57 L231.39,385.59 L231.85,385.61 L232.31,385.62 L232.76,385.63 L233.22,385.63 L233.68,385.62 L234.14,385.61 L234.59,385.60 L235.05,385.58 L235.51,385.56 L235.97,385.55 L236.43,385.53 L236.88,385.53 L237.34,385.53 L237.80,385.55 L238.25,385.58 L238.71,385.64 L239.17,385.74 L239.63,385.89 L240.09,386.13 L240.54,386.54 L241.00,388.60 L241.00,388.60 L240.54,390.63 L240.09,391.01 L239.63,391.23 L239.17,391.36 L238.71,391.45 L238.25,391.50 L237.80,391.52 L237.34,391.53 L236.88,391.53 L236.43,391.52 L235.97,391.50 L235.51,391.48 L235.05,391.45 L234.59,391.43 L234.14,391.40 L233.68,391.37 L233.22,391.35 L232.76,391.33 L232.31,391.31 L231.85,391.30 L231.39,391.28 L230.94,391.27 L230.48,391.26 L230.02,391.25 L229.56,391.25 L229.10,391.25 L228.65,391.24 L228.19,391.24 L227.73,391.23 L227.27,391.22 L226.82,391.20 L226.36,391.17 L225.90,391.13 L225.44,391.08 L224.99,391.00 L224.53,390.88 L224.07,390.72 L223.61,390.47 L223.16,390.06 L222.70,388.00Z" fill="#111"/>
<path d="M94.80,425.00 L95.27,422.25 L95.74,421.72 L96.21,421.43 L96.68,421.24 L97.15,421.13 L97.62,421.07 L98.09,421.04 L98.56,421.04 L99.03,421.05 L99.50,421.08 L99.97,421.12 L100.44,421.16 L100.91,421.21 L101.38,421.25 L101.85,421.29 L102.32,421.32 L102.79,421.35 L103.26,421.37 L103.73,421.38 L104.20,421.39 L104.67,421.38 L105.14,421.37 L105.61,421.35 L106.08,421.32 L106.55,421.29 L107.02,421.25 L107.49,421.21 L107.96,421.16 L108.43,421.12 L108.90,421.08 L109.37,421.05 L109.84,421.04 L110.31,421.04 L110.78,421.07 L111.25,421.13 L111.72,421.24 L112.19,421.43 L112.66,421.72 L113.13,422.25 L113.60,425.00 L113.60,425.00 L113.13,427.75 L112.66,428.28 L112.19,428.59 L111.72,428.79 L111.25,428.93 L110.78,429.02 L110.31,429.07 L109.84,429.10 L109.37,429.12 L108.90,429.12 L108.43,429.12 L107.96,429.11 L107.49,429.09 L107.02,429.08 L106.55,429.06 L106.08,429.05 L105.61,429.04 L105.14,429.03 L104.67,429.03 L104.20,429.02 L103.73,429.03 L103.26,429.03 L102.79,429.04 L102.32,429.05 L101.85,429.06 L101.38,429.08 L100.91,429.09 L100.44,429.11 L99.97,429.12 L99.50,429.12 L99.03,429.12 L98.56,429.10 L98.09,429.07 L97.62,429.02 L97.15,428.93 L96.68,428.79 L96.21,428.59 L95.74,428.28 L95.27,427.75 L94.80,425.00Z" fill="#000"/>
<path d="M123.20,425.00 L123.65,422.25 L124.10,421.72 L124.55,421.43 L125.00,421.24 L125.45,421.13 L125.90,421.07 L126.35,421.04 L126.80,421.04 L127.25,421.05 L127.70,421.08 L128.15,421.12 L128.60,421.16 L129.05,421.21 L129.50,421.25 L129.95,421.29 L130.40,421.32 L130.85,421.35 L131.30,421.37 L131.75,421.38 L132.20,421.39 L132.65,421.38 L133.10,421.37 L133.55,421.35 L134.00,421.32 L134.45,421.29 L134.90,421.25 L135.35,421.21 L135.80,421.16 L136.25,421.12 L136.70,421.08 L137.15,421.05 L137.60,421.04 L138.05,421.04 L138.50,421.07 L138.95,421.13 L139.40,421.24 L139.85,421.43 L140.30,421.72 L140.75,422.25 L141.20,425.00 L141.20,425.00 L140.75,427.75 L140.30,428.28 L139.85,428.59 L139.40,428.79 L138.95,428.93 L138.50,429.02 L138.05,429.07 L137.60,429.10 L137.15,429.12 L136.70,429.12 L136.25,429.12 L135.80,429.11 L135.35,429.09 L134.90,429.08 L134.45,429.06 L134.00,429.05 L133.55,429.04 L133.10,429.03 L132.65,429.03 L132.20,429.02 L131.75,429.03 L131.30,429.03 L130.85,429.04 L130.40,429.05 L129.95,429.06 L129.50,429.08 L129.05,429.09 L128.60,429.11 L128.15,429.12 L127.70,429.12 L127.25,429.12 L126.80,429.10 L126.35,429.07 L125.90,429.02 L125.45,428.93 L125.00,428.79 L124.55,428.59 L124.10,428.28 L123.65,427.75 L123.20,425.00Z" fill="#000"/>
<path d="M148.60,424.20 L149.03,421.45 L149.45,420.92 L149.88,420.63 L150.30,420.44 L150.72,420.33 L151.15,420.27 L151.57,420.24 L152.00,420.24 L152.42,420.25 L152.85,420.28 L153.28,420.32 L153.70,420.36 L154.12,420.41 L154.55,420.45 L154.97,420.49 L155.40,420.52 L155.82,420.55 L156.25,420.57 L156.67,420.58 L157.10,420.59 L157.53,420.58 L157.95,420.57 L158.38,420.55 L158.80,420.52 L159.22,420.49 L159.65,420.45 L160.07,420.41 L160.50,420.36 L160.92,420.32 L161.35,420.28 L161.78,420.25 L162.20,420.24 L162.62,420.24 L163.05,420.27 L163.47,420.33 L163.90,420.44 L164.32,420.63 L164.75,420.92 L165.17,421.45 L165.60,424.20 L165.60,424.20 L165.17,426.95 L164.75,427.48 L164.32,427.79 L163.90,427.99 L163.47,428.13 L163.05,428.22 L162.62,428.27 L162.20,428.30 L161.78,428.32 L161.35,428.32 L160.92,428.32 L160.50,428.31 L160.07,428.29 L159.65,428.28 L159.22,428.26 L158.80,428.25 L158.38,428.24 L157.95,428.23 L157.53,428.23 L157.10,428.22 L156.67,428.23 L156.25,428.23 L155.82,428.24 L155.40,428.25 L154.97,428.26 L154.55,428.28 L154.12,428.29 L153.70,428.31 L153.28,428.32 L152.85,428.32 L152.42,428.32 L152.00,428.30 L151.57,428.27 L151.15,428.22 L150.72,428.13 L150.30,427.99 L149.88,427.79 L149.45,427.48 L149.03,426.95 L148.60,424.20Z" fill="#000"/>
<path d="M175.70,423.80 L176.10,421.24 L176.49,420.75 L176.89,420.47 L177.29,420.30 L177.69,420.20 L178.08,420.14 L178.48,420.11 L178.88,420.11 L179.28,420.13 L179.67,420.15 L180.07,420.19 L180.47,420.23 L180.87,420.27 L181.26,420.31 L181.66,420.35 L182.06,420.38 L182.46,420.41 L182.85,420.42 L183.25,420.44 L183.65,420.44 L184.05,420.44 L184.44,420.42 L184.84,420.41 L185.24,420.38 L185.64,420.35 L186.03,420.31 L186.43,420.27 L186.83,420.23 L187.23,420.19 L187.62,420.15 L188.02,420.13 L188.42,420.11 L188.82,420.11 L189.21,420.14 L189.61,420.20 L190.01,420.30 L190.41,420.47 L190.80,420.75 L191.20,421.24 L191.60,423.80 L191.60,423.80 L191.20,426.36 L190.80,426.86 L190.41,427.14 L190.01,427.33 L189.61,427.45 L189.21,427.54 L188.82,427.59 L188.42,427.62 L188.02,427.63 L187.62,427.64 L187.23,427.63 L186.83,427.62 L186.43,427.61 L186.03,427.59 L185.64,427.58 L185.24,427.57 L184.84,427.56 L184.44,427.55 L184.05,427.55 L183.65,427.54 L183.25,427.55 L182.85,427.55 L182.46,427.56 L182.06,427.57 L181.66,427.58 L181.26,427.59 L180.87,427.61 L180.47,427.62 L180.07,427.63 L179.67,427.64 L179.28,427.63 L178.88,427.62 L178.48,427.59 L178.08,427.54 L177.69,427.45 L177.29,427.33 L176.89,427.14 L176.49,426.86 L176.10,426.36 L175.70,423.80Z" fill="#000"/>
<path d="M199.10,422.50 L199.53,419.94 L199.97,419.45 L200.40,419.17 L200.83,419.00 L201.26,418.90 L201.69,418.84 L202.13,418.81 L202.56,418.81 L202.99,418.83 L203.43,418.85 L203.86,418.89 L204.29,418.93 L204.72,418.97 L205.16,419.01 L205.59,419.05 L206.02,419.08 L206.45,419.11 L206.88,419.12 L207.32,419.14 L207.75,419.14 L208.18,419.14 L208.62,419.12 L209.05,419.11 L209.48,419.08 L209.91,419.05 L210.34,419.01 L210.78,418.97 L211.21,418.93 L211.64,418.89 L212.07,418.85 L212.51,418.83 L212.94,418.81 L213.37,418.81 L213.81,418.84 L214.24,418.90 L214.67,419.00 L215.10,419.17 L215.53,419.45 L215.97,419.94 L216.40,422.50 L216.40,422.50 L215.97,425.06 L215.53,425.56 L215.10,425.84 L214.67,426.03 L214.24,426.15 L213.81,426.24 L213.37,426.29 L212.94,426.32 L212.51,426.33 L212.07,426.34 L211.64,426.33 L211.21,426.32 L210.78,426.31 L210.34,426.29 L209.91,426.28 L209.48,426.27 L209.05,426.26 L208.62,426.25 L208.18,426.25 L207.75,426.24 L207.32,426.25 L206.88,426.25 L206.45,426.26 L206.02,426.27 L205.59,426.28 L205.16,426.29 L204.72,426.31 L204.29,426.32 L203.86,426.33 L203.43,426.34 L202.99,426.33 L202.56,426.32 L202.13,426.29 L201.69,426.24 L201.26,426.15 L200.83,426.03 L200.40,425.84 L199.97,425.56 L199.53,425.06 L199.10,422.50Z" fill="#000"/>
<path d="M224.40,422.30 L224.85,419.87 L225.30,419.40 L225.76,419.14 L226.21,418.98 L226.66,418.88 L227.11,418.82 L227.57,418.80 L228.02,418.80 L228.47,418.81 L228.92,418.84 L229.38,418.87 L229.83,418.91 L230.28,418.95 L230.73,418.99 L231.19,419.02 L231.64,419.05 L232.09,419.07 L232.54,419.09 L233.00,419.10 L233.45,419.11 L233.90,419.10 L234.35,419.09 L234.81,419.07 L235.26,419.05 L235.71,419.02 L236.16,418.99 L236.62,418.95 L237.07,418.91 L237.52,418.87 L237.97,418.84 L238.43,418.81 L238.88,418.80 L239.33,418.80 L239.78,418.82 L240.24,418.88 L240.69,418.98 L241.14,419.14 L241.59,419.40 L242.05,419.87 L242.50,422.30 L242.50,422.30 L242.05,424.73 L241.59,425.20 L241.14,425.48 L240.69,425.65 L240.24,425.77 L239.78,425.85 L239.33,425.90 L238.88,425.93 L238.43,425.94 L237.97,425.94 L237.52,425.94 L237.07,425.93 L236.62,425.92 L236.16,425.90 L235.71,425.89 L235.26,425.88 L234.81,425.87 L234.35,425.86 L233.90,425.86 L233.45,425.86 L233.00,425.86 L232.54,425.86 L232.09,425.87 L231.64,425.88 L231.19,425.89 L230.73,425.90 L230.28,425.92 L229.83,425.93 L229.38,425.94 L228.92,425.94 L228.47,425.94 L228.02,425.93 L227.57,425.90 L227.11,425.85 L226.66,425.77 L226.21,425.65 L225.76,425.48 L225.30,425.20 L224.85,424.73 L224.40,422.30Z" fill="#2e2e2e"/>
</g>
<text x="274.2" y="287.5" font-size="17" text-anchor="start" font-weight="bold" fill="#000">B-c</text>
<path d="M328.90,468.75H333.30" stroke="#000" stroke-width="1.3"/>
<text x="324.1" y="471.85" font-size="11.6" text-anchor="end" font-weight="normal" fill="#222" stroke="#222" stroke-width="0.12">0</text>
<path d="M328.90,436.63H333.30" stroke="#000" stroke-width="1.3"/>
<text x="324.1" y="439.73" font-size="11.6" text-anchor="end" font-weight="normal" fill="#222" stroke="#222" stroke-width="0.12">20</text>
<path d="M328.90,404.51H333.30" stroke="#000" stroke-width="1.3"/>
<text x="324.1" y="407.61" font-size="11.6" text-anchor="end" font-weight="normal" fill="#222" stroke="#222" stroke-width="0.12">40</text>
<path d="M328.90,372.39H333.30" stroke="#000" stroke-width="1.3"/>
<text x="324.1" y="375.49" font-size="11.6" text-anchor="end" font-weight="normal" fill="#222" stroke="#222" stroke-width="0.12">60</text>
<path d="M328.90,340.27H333.30" stroke="#000" stroke-width="1.3"/>
<text x="324.1" y="343.37" font-size="11.6" text-anchor="end" font-weight="normal" fill="#222" stroke="#222" stroke-width="0.12">80</text>
<path d="M328.90,308.15H333.30" stroke="#000" stroke-width="1.3"/>
<text x="324.1" y="311.25" font-size="11.6" text-anchor="end" font-weight="normal" fill="#222" stroke="#222" stroke-width="0.12">100</text>
<path d="M333.30,468.75V473.15" stroke="#000" stroke-width="1.3"/>
<text x="333.30" y="487.9" font-size="11.6" text-anchor="middle" font-weight="normal" fill="#222" stroke="#222" stroke-width="0.12">0</text>
<path d="M373.40,468.75V473.15" stroke="#000" stroke-width="1.3"/>
<text x="373.40" y="487.9" font-size="11.6" text-anchor="middle" font-weight="normal" fill="#222" stroke="#222" stroke-width="0.12">5</text>
<path d="M413.50,468.75V473.15" stroke="#000" stroke-width="1.3"/>
<text x="413.50" y="487.9" font-size="11.6" text-anchor="middle" font-weight="normal" fill="#222" stroke="#222" stroke-width="0.12">10</text>
<path d="M453.60,468.75V473.15" stroke="#000" stroke-width="1.3"/>
<text x="453.60" y="487.9" font-size="11.6" text-anchor="middle" font-weight="normal" fill="#222" stroke="#222" stroke-width="0.12">15</text>
<path d="M493.70,468.75V473.15" stroke="#000" stroke-width="1.3"/>
<text x="493.70" y="487.9" font-size="11.6" text-anchor="middle" font-weight="normal" fill="#222" stroke="#222" stroke-width="0.12">20</text>
<text x="397.8" y="507.9" font-size="14.5" text-anchor="start" font-weight="normal" fill="#222" textLength="47.4" lengthAdjust="spacingAndGlyphs" stroke="#222" stroke-width="0.45">Time (min)</text>
<text transform="translate(295.1,435.1) rotate(-90)" x="0" y="0" font-size="14.5" fill="#222" textLength="109.4" lengthAdjust="spacingAndGlyphs" stroke="#222" stroke-width="0.45">Band density (% of initial)</text>
<polyline points="333.30,308.30 341.32,313.80 357.36,327.50 373.40,342.30 413.50,343.50 493.70,352.30" fill="none" stroke="#f5a231" stroke-width="1.6" stroke-linejoin="round"/>
<polyline points="333.30,308.30 341.32,306.50 357.36,333.40 373.40,374.90 413.50,402.70 493.70,404.50" fill="none" stroke="#bb0f2d" stroke-width="1.9" stroke-linejoin="round"/>
<polyline points="333.30,308.30 341.32,308.40 357.36,303.30 373.40,312.30 413.50,356.50 493.70,364.30" fill="none" stroke="#1c4778" stroke-width="1.9" stroke-linejoin="round"/>
<rect x="330.70" y="305.70" width="5.2" height="5.2" fill="#f6990f" stroke="#ea8c00" stroke-width="0.6"/>
<rect x="338.72" y="311.20" width="5.2" height="5.2" fill="#f6990f" stroke="#ea8c00" stroke-width="0.6"/>
<rect x="354.76" y="324.90" width="5.2" height="5.2" fill="#f6990f" stroke="#ea8c00" stroke-width="0.6"/>
<rect x="370.80" y="339.70" width="5.2" height="5.2" fill="#f6990f" stroke="#ea8c00" stroke-width="0.6"/>
<rect x="410.90" y="340.90" width="5.2" height="5.2" fill="#f6990f" stroke="#ea8c00" stroke-width="0.6"/>
<rect x="491.10" y="349.70" width="5.2" height="5.2" fill="#f6990f" stroke="#ea8c00" stroke-width="0.6"/>
<circle cx="341.32" cy="306.50" r="2.7" fill="#d10a2e" stroke="#a3081f" stroke-width="0.8"/>
<circle cx="357.36" cy="333.40" r="2.7" fill="#d10a2e" stroke="#a3081f" stroke-width="0.8"/>
<circle cx="373.40" cy="374.90" r="2.7" fill="#d10a2e" stroke="#a3081f" stroke-width="0.8"/>
<circle cx="413.50" cy="402.70" r="2.7" fill="#d10a2e" stroke="#a3081f" stroke-width="0.8"/>
<circle cx="493.70" cy="404.50" r="2.7" fill="#d10a2e" stroke="#a3081f" stroke-width="0.8"/>
<circle cx="341.32" cy="308.40" r="2.7" fill="#1c548c" stroke="#0f3a68" stroke-width="0.8"/>
<circle cx="357.36" cy="303.30" r="2.7" fill="#1c548c" stroke="#0f3a68" stroke-width="0.8"/>
<circle cx="373.40" cy="312.30" r="2.7" fill="#1c548c" stroke="#0f3a68" stroke-width="0.8"/>
<circle cx="413.50" cy="356.50" r="2.7" fill="#1c548c" stroke="#0f3a68" stroke-width="0.8"/>
<circle cx="493.70" cy="364.30" r="2.7" fill="#1c548c" stroke="#0f3a68" stroke-width="0.8"/>
<rect x="333.3" y="292.1" width="176.70" height="176.65" fill="none" stroke="#000" stroke-width="1.4"/>
<rect x="450.40" y="422.00" width="8.0" height="8.0" fill="#f6990f" stroke="#ea8c00" stroke-width="0.6"/>
<text x="463.5" y="428.8" font-size="11.3" text-anchor="start" font-weight="normal" fill="#222" textLength="29.6" lengthAdjust="spacingAndGlyphs" stroke="#222" stroke-width="0.12">No FV</text>
<circle cx="454.30" cy="441.80" r="4.1" fill="#1c548c" stroke="#0f3a68" stroke-width="0.8"/>
<text x="463.5" y="444.6" font-size="11.3" text-anchor="start" font-weight="normal" fill="#222" textLength="41.4" lengthAdjust="spacingAndGlyphs" stroke="#222" stroke-width="0.12">A2086D</text>
<circle cx="454.30" cy="457.70" r="4.1" fill="#d10a2e" stroke="#a3081f" stroke-width="0.8"/>
<text x="463.5" y="460.8" font-size="11.3" text-anchor="start" font-weight="normal" fill="#222" textLength="17.0" lengthAdjust="spacingAndGlyphs" stroke="#222" stroke-width="0.12">WT</text>
<rect x="0.5" y="0.5" width="519" height="521" fill="none" stroke="#222" stroke-width="1"/>
</svg></body></html>
